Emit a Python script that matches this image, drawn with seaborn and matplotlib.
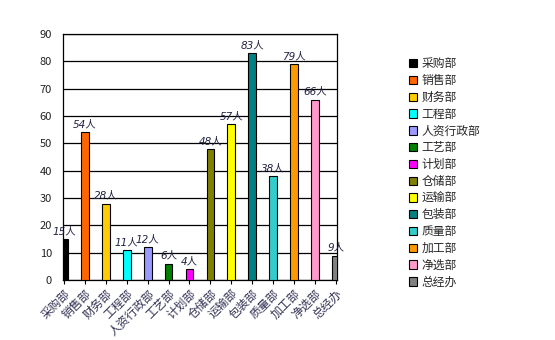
import matplotlib
matplotlib.use("Agg")
import matplotlib.pyplot as plt
import seaborn as sns
import pandas as pd
from matplotlib.patches import Patch

departments = ["采购部", "销售部", "财务部", "工程部", "人资行政部", "工艺部", "计划部",
               "仓储部", "运输部", "包装部", "质量部", "加工部", "净选部", "总经办"]
headcount = [15, 54, 28, 11, 12, 6, 4, 48, 57, 83, 38, 79, 66, 9]
colors = ["#000000", "#FF6600", "#FFCC00", "#00FFFF", "#9999FF", "#008000", "#FF00FF",
          "#808000", "#FFFF00", "#008080", "#33CCCC", "#FF9900", "#FF99CC", "#808080"]
y_ticks = [0, 10, 20, 30, 40, 50, 60, 70, 80, 90]

sns.set_style("white")
plt.rcParams['font.family'] = ['Noto Sans CJK SC', 'DejaVu Sans']

df = pd.DataFrame({"dept": departments, "n": headcount})

fig = plt.figure(figsize=(5.55, 3.4), dpi=100)
ax = fig.add_axes([0.1135, 0.176, 0.4935, 0.724])

sns.barplot(data=df, x="dept", y="n", hue="dept", palette=colors, dodge=False,
            saturation=1, width=0.37, edgecolor="black", linewidth=0.8,
            legend=False, ax=ax, zorder=3)

ax.set_xlim(-0.05, 13.05)
ax.set_ylim(0, 90)
ax.set_yticks(y_ticks)
ax.yaxis.grid(True, color="black", linewidth=0.9, zorder=0)
ax.set_axisbelow(True)
for s in ax.spines.values():
    s.set_color("black")
    s.set_linewidth(0.9)
    s.set_visible(True)

ax.set_xlabel("")
ax.set_ylabel("")
ax.tick_params(axis="y", labelsize=8, length=0, pad=8)
ax.tick_params(axis="x", labelsize=8.5, length=3, direction="out", color="black", bottom=True, pad=2)
ax.set_xticks(range(len(departments)))
ax.set_xticklabels(departments, rotation=45, ha="right", rotation_mode="anchor", color="#333355")
for lab in ax.get_yticklabels():
    lab.set_color("#222222")

for cont in ax.containers:
    ax.bar_label(cont, labels=[f"{int(v)}人" for v in cont.datavalues],
                 fontsize=7.5, style="italic", color="#222244", padding=2,
                 family=['DejaVu Sans', 'Noto Sans CJK SC'])

handles = [Patch(facecolor=c, edgecolor="black", linewidth=0.8) for c in colors]
fig.legend(handles, departments, loc="upper left", bbox_to_anchor=(0.728, 0.845),
           frameon=False, fontsize=8.5, handlelength=0.7, handleheight=0.7,
           handletextpad=0.4, labelspacing=0.32, borderaxespad=0)

fig.savefig("out.png", dpi=100)
